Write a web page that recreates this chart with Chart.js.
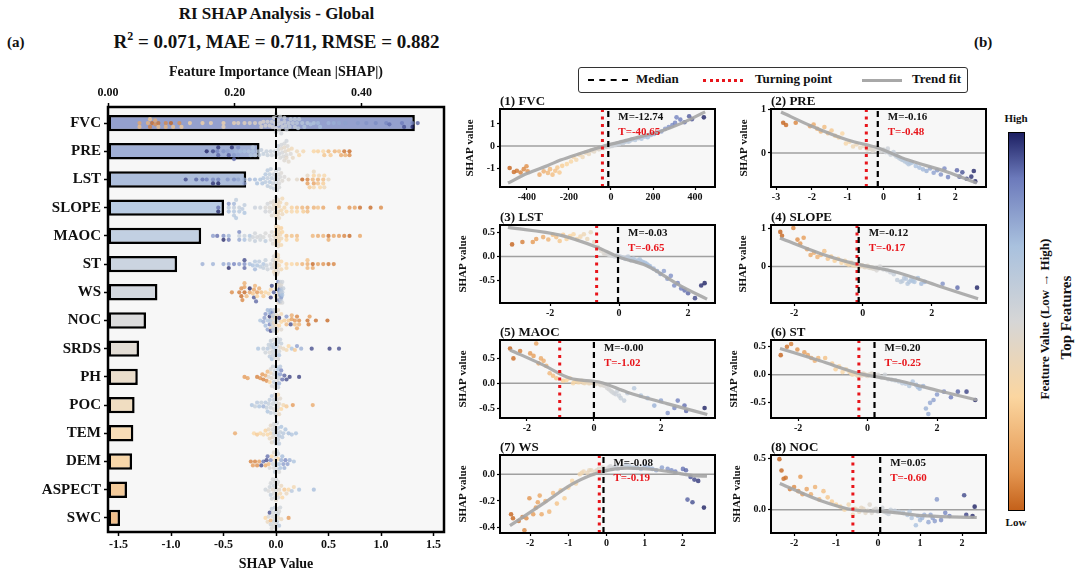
<!DOCTYPE html>
<html>
<head>
<meta charset="utf-8">
<script src="https://cdn.jsdelivr.net/npm/chart.js@4.4.1/dist/chart.umd.min.js"></script>
<style>
  body { margin: 0; width: 1080px; height: 576px; overflow: hidden; position: relative; background: #fff;
         font-family: "Liberation Serif", "DejaVu Serif", serif; font-weight: bold; color: #111; }
  canvas, .abs { position: absolute; }
  .sample { position: absolute; top: 11px; width: 40px; height: 0; }
  .lab { position: absolute; top: 3px; font-size: 13px; }
  .rot { transform: rotate(-90deg); white-space: nowrap; text-align: center; }
</style>
</head>
<body>
<div class="abs" style="left:0;width:553px;top:4px;text-align:center;font-size:17px">RI SHAP Analysis - Global</div>
<div class="abs" style="left:0;width:553px;top:31px;text-align:center;font-size:19px">R<span style="font-size:12px;position:relative;top:-8px">2</span> = 0.071, MAE = 0.711, RMSE = 0.882</div>
<div class="abs" style="left:7px;top:34px;font-size:15px">(a)</div>
<div class="abs" style="left:974px;top:34px;font-size:15px">(b)</div>

<div class="abs" style="left:578px;top:67px;width:388px;height:24px;border:1px solid #333;border-radius:3px;background:#fff">
  <span class="sample" style="left:9px;border-top:2.5px dashed #000"></span><span class="lab" style="left:57px">Median</span>
  <span class="sample" style="left:124px;border-top:3px dotted #e8151b"></span><span class="lab" style="left:176px">Turning point</span>
  <span class="sample" style="left:283px;border-top:3px solid #a8a8a8"></span><span class="lab" style="left:333px">Trend fit</span>
</div>

<div class="abs" id="cbar" style="left:1008px;top:132px;width:15px;height:377px;border:1.5px solid #000"></div>
<div class="abs" style="left:996px;width:40px;top:112px;text-align:center;font-size:11px">High</div>
<div class="abs" style="left:996px;width:40px;top:516px;text-align:center;font-size:11px">Low</div>
<div class="abs rot" style="left:945px;width:200px;top:311px;font-size:13px">Feature Value (Low &#8594; High)</div>
<div class="abs rot" style="left:966px;width:200px;top:309px;font-size:15px">Top Features</div>

<canvas id="left" width="460" height="516" style="left:0;top:60px"></canvas>

<script>
// ---- data ----
const features = ['FVC', 'PRE', 'LST', 'SLOPE', 'MAOC', 'ST', 'WS', 'NOC', 'SRDS', 'PH', 'POC', 'TEM', 'DEM', 'ASPECT', 'SWC'];
const importance = [0.484, 0.239, 0.218, 0.183, 0.147, 0.109, 0.078, 0.060, 0.049, 0.047, 0.042, 0.040, 0.038, 0.030, 0.019];
const impTicks = [0, 0.2, 0.4];
const shapTicks = [-1.5, -1.0, -0.5, 0, 0.5, 1.0, 1.5];

// dependence points [feature value, SHAP]
const fvcPts = [[-482,-1.0],[-462,-1.18],[-448,-1.12],[-430,-1.2],[-415,-1.05],[-402,-0.92],[-396,-1.15],
  [-340,-1.3],[-320,-1.15],[-300,-1.22],[-290,-1.05],[-278,-1.3],[-265,-1.12],[-255,-0.98],[-245,-1.2],[-232,-0.9],
  [-210,-0.82],[-190,-0.7],[-178,-0.5],[-165,-0.62],[-150,-0.4],[-135,-0.5],[-120,-0.3],[-105,-0.36],[-92,-0.2],
  [-80,-0.25],[-68,-0.12],[-55,-0.15],[-45,-0.06],[-36,-0.1],[-28,0.0],[-20,-0.04],[-12,0.02],[-5,-0.02],[2,0.05],
  [8,0.0],[15,0.08],[22,0.04],[30,0.12],[38,0.08],[48,0.18],[58,0.14],[70,0.22],[85,0.2],[100,0.3],[115,0.27],
  [130,0.36],[145,0.33],[160,0.42],[175,0.4],[190,0.5],[205,0.55],[220,0.6],[240,0.66],[258,0.78],[275,0.86],
  [292,0.95],[305,1.05],[312,1.3],[330,1.2],[350,1.08],[372,1.35],[385,1.22],[442,1.3],
  [-60,-0.14],[-40,-0.08],[-25,-0.03],[-15,-0.01],[-8,0.0],[0,0.02],[5,0.03],[12,0.05],[18,0.06],[26,0.09],
  [34,0.1],[44,0.13],[52,0.16],[64,0.18],[78,0.21],[92,0.25]];
const prePts = [[-2.8,0.7],[-2.72,0.65],[-2.45,0.7],[-2.05,0.62],[-1.95,0.66],[-1.85,0.56],[-1.75,0.5],[-1.65,0.6],
  [-1.55,0.46],[-1.45,0.52],[-1.35,0.4],[-1.25,0.36],[-1.15,0.45],[-1.05,0.22],[-0.95,0.26],[-0.85,0.15],[-0.75,0.2],
  [-0.65,0.12],[-0.55,0.16],[-0.45,0.08],[-0.38,0.12],[-0.3,0.05],[-0.22,0.14],[-0.15,0.1],[-0.08,0.04],[0,0.08],
  [0.06,0.02],[0.12,0.1],[0.2,-0.04],[0.28,0.02],[0.36,-0.08],[0.44,-0.12],[0.52,-0.16],[0.6,-0.2],[0.7,-0.26],
  [0.8,-0.22],[0.9,-0.3],[1.0,-0.34],[1.1,-0.38],[1.2,-0.42],[1.3,-0.36],[1.4,-0.46],[1.5,-0.4],[1.6,-0.5],
  [1.7,-0.36],[1.8,-0.56],[2.05,-0.4],[2.12,-0.55],[2.2,-0.45],[2.32,-0.6],[2.45,-0.55],[2.52,-0.42],[2.56,-0.66],
  [-0.4,0.1],[-0.34,0.09],[-0.26,0.08],[-0.18,0.11],[-0.1,0.07],[-0.04,0.06],[0.03,0.05],[0.09,0.03],[0.16,0.0],
  [0.24,-0.01],[0.32,-0.05],[0.4,-0.09],[0.48,-0.14],[0.56,-0.17],[0.65,-0.22],[0.75,-0.24]];
const lstPts = [[-3.1,0.25],[-2.8,0.3],[-2.5,0.3],[-2.4,0.36],[-2.2,0.4],[-2.05,0.35],[-1.92,0.45],[-1.82,0.4],
  [-1.72,0.32],[-1.62,0.45],[-1.52,0.36],[-1.42,0.42],[-1.32,0.46],[-1.22,0.36],[-1.12,0.41],[-1.02,0.46],[-0.92,0.36],
  [-0.82,0.5],[-0.72,0.3],[-0.62,0.2],[-0.52,0.12],[-0.44,0.06],[-0.36,0.08],[-0.28,0.03],[-0.2,0.02],[-0.12,0.0],
  [-0.05,0.03],[0.02,0.0],[0.1,-0.02],[0.18,-0.05],[0.26,0.0],[0.34,-0.08],[0.42,-0.04],[0.5,-0.1],[0.6,-0.06],
  [0.7,-0.12],[0.8,-0.15],[0.9,-0.2],[1.0,-0.25],[1.1,-0.3],[1.2,-0.36],[1.3,-0.3],[1.4,-0.46],[1.5,-0.4],[1.6,-0.6],
  [1.7,-0.55],[1.8,-0.66],[1.9,-0.7],[2.0,-0.76],[2.2,-0.86],[2.38,-0.6],[2.48,-0.55],
  [-0.4,0.05],[-0.32,0.04],[-0.24,0.03],[-0.16,0.01],[-0.08,0.02],[0.0,0.0],[0.06,-0.01],[0.14,-0.03],[0.22,-0.02],
  [0.3,-0.05],[0.38,-0.06],[0.46,-0.08],[0.55,-0.08],[0.65,-0.1],[0.75,-0.13],[0.85,-0.18]];
const slopePts = [[-2.4,0.9],[-2.35,0.8],[-2.02,1.0],[-1.9,0.7],[-1.82,0.6],[-1.72,0.75],[-1.62,0.45],[-1.52,0.3],
  [-1.42,0.36],[-1.32,0.25],[-1.22,0.3],[-1.12,0.4],[-1.02,0.2],[-0.92,0.26],[-0.82,0.15],[-0.72,0.2],[-0.62,0.1],
  [-0.52,0.15],[-0.42,0.05],[-0.34,0.1],[-0.26,0.02],[-0.18,0.06],[-0.1,0.0],[-0.02,0.03],[0.06,-0.02],[0.14,0.02],
  [0.22,-0.04],[0.3,-0.06],[0.4,-0.1],[0.5,0.0],[0.6,-0.08],[0.7,-0.1],[0.8,-0.15],[0.9,-0.2],[1.0,-0.35],[1.1,-0.4],
  [1.2,-0.3],[1.3,-0.45],[1.4,-0.35],[1.5,-0.4],[1.6,-0.3],[1.7,-0.45],[1.8,-0.4],[2.32,-0.45],[2.75,-0.55],[3.32,-0.55],
  [-0.48,0.08],[-0.38,0.06],[-0.3,0.04],[-0.22,0.03],[-0.14,0.02],[-0.06,0.01],[0.02,0.0],[0.1,-0.01],[0.18,-0.03],
  [0.26,-0.02],[0.35,-0.05],[0.45,-0.06],[1.15,-0.38],[1.25,-0.32],[1.35,-0.4],[1.45,-0.38]];
const maocPts = [[-2.5,0.7],[-2.4,0.5],[-2.2,0.65],[-1.9,0.6],[-1.8,0.55],[-1.72,0.8],[-1.65,0.4],[-1.58,0.5],
  [-1.5,0.45],[-1.42,0.35],[-1.32,0.2],[-1.22,0.15],[-1.12,0.1],[-1.02,0.2],[-0.92,0.05],[-0.82,0.06],[-0.72,0.1],
  [-0.62,0.0],[-0.52,0.05],[-0.44,0.02],[-0.36,0.05],[-0.28,0.0],[-0.2,0.03],[-0.12,0.0],[-0.04,0.02],[0.04,-0.02],
  [0.12,0.02],[0.2,-0.04],[0.3,-0.05],[0.4,-0.1],[0.5,-0.15],[0.6,-0.2],[0.7,-0.15],[0.8,-0.3],[0.9,-0.35],[1.0,-0.2],
  [1.2,-0.1],[1.4,-0.25],[1.6,-0.3],[1.8,-0.45],[2.0,-0.35],[2.2,-0.6],[2.4,-0.5],[2.5,-0.35],[2.7,-0.45],[2.75,-0.56],[3.3,-0.5],
  [-0.58,0.03],[-0.48,0.02],[-0.4,0.04],[-0.32,0.01],[-0.24,0.02],[-0.16,0.0],[-0.08,0.01],[0.0,0.0],[0.08,0.0],
  [0.16,-0.01],[0.25,-0.03],[0.35,-0.06],[0.45,-0.12],[0.55,-0.18],[0.65,-0.22],[0.75,-0.25]];
const stPts = [[-2.5,0.35],[-2.32,0.5],[-2.2,0.55],[-2.02,0.45],[-1.82,0.4],[-1.72,0.35],[-1.62,0.3],[-1.52,0.25],
  [-1.42,0.3],[-1.22,0.3],[-1.02,0.2],[-0.92,0.1],[-0.82,0.15],[-0.72,0.05],[-0.62,0.1],[-0.52,0.05],[-0.44,0.0],
  [-0.36,0.02],[-0.28,-0.02],[-0.2,0.0],[-0.12,0.02],[-0.04,-0.01],[0.04,0.0],[0.12,0.02],[0.2,-0.02],[0.3,0.0],
  [0.4,-0.05],[0.5,0.0],[0.6,-0.08],[0.8,-0.1],[1.0,-0.15],[1.2,-0.2],[1.3,-0.12],[1.4,-0.18],[1.5,-0.25],[1.6,-0.2],
  [1.68,-0.6],[1.75,-0.7],[1.8,-0.5],[1.9,-0.45],[2.0,-0.35],[2.2,-0.3],[2.4,-0.4],[2.6,-0.3],[2.85,-0.3],[3.1,-0.45],
  [-0.48,0.03],[-0.4,0.02],[-0.32,0.0],[-0.24,0.01],[-0.16,-0.01],[-0.08,0.01],[0.0,-0.02],[0.08,0.01],[0.16,0.0],
  [0.25,-0.01],[0.35,-0.03],[0.45,-0.04],[0.7,-0.09],[0.9,-0.12],[1.1,-0.16],[1.45,-0.22]];
const wsPts = [[-2.5,-0.3],[-2.45,-0.33],[-2.3,-0.35],[-2.2,-0.32],[-2.15,-0.42],[-2.1,-0.33],[-2.02,-0.18],[-1.92,-0.3],
  [-1.85,-0.25],[-1.8,-0.21],[-1.75,-0.16],[-1.7,-0.3],[-1.6,-0.2],[-1.5,-0.28],[-1.4,-0.14],[-1.3,-0.22],[-1.2,-0.12],
  [-1.1,-0.18],[-1.0,-0.1],[-0.9,-0.05],[-0.8,-0.07],[-0.7,0.0],[-0.6,0.02],[-0.5,0.01],[-0.4,0.03],[-0.3,0.02],
  [-0.2,0.04],[-0.1,0.05],[0,0.03],[0.1,0.06],[0.2,0.05],[0.3,0.04],[0.5,0.07],[0.7,0.05],[0.9,0.04],[1.1,0.05],
  [1.3,0.03],[1.6,0.04],[1.8,0.02],[2.0,0.04],[2.08,0.03],[2.2,-0.02],[2.3,-0.04],[2.4,-0.05],[2.12,-0.19],[2.25,-0.21],[2.55,-0.25],
  [-0.65,0.01],[-0.45,0.03],[-0.35,0.0],[-0.25,0.03],[-0.15,0.02],[-0.05,0.04],[0.05,0.05],[0.15,0.04],[0.25,0.06],
  [0.4,0.05],[0.6,0.06],[0.8,0.05],[1.0,0.06],[1.2,0.04],[1.45,0.05],[1.7,0.03]];
const nocPts = [[-2.35,0.49],[-2.3,0.38],[-2.25,0.3],[-2.2,0.31],[-2.1,0.2],[-2.0,0.22],[-1.9,0.18],[-1.85,0.32],
  [-1.8,0.15],[-1.7,0.2],[-1.6,0.15],[-1.5,0.22],[-1.4,0.1],[-1.3,0.18],[-1.2,0.12],[-1.1,0.08],[-1.0,0.05],[-0.9,0.03],
  [-0.8,0.0],[-0.7,0.05],[-0.6,-0.05],[-0.5,0.0],[-0.4,0.02],[-0.3,-0.03],[-0.2,0.05],[-0.1,0.0],[0,-0.02],[0.1,0.02],
  [0.2,-0.03],[0.3,0.0],[0.5,-0.02],[0.7,-0.05],[0.8,-0.08],[0.9,-0.15],[1.0,-0.1],[1.1,-0.05],[1.2,-0.12],[1.3,-0.08],
  [1.4,0.1],[1.5,-0.1],[1.6,-0.03],[1.7,-0.06],[2.05,0.14],[2.1,-0.05],[2.25,-0.06],[2.3,0.03],
  [-0.55,0.01],[-0.45,-0.02],[-0.35,0.01],[-0.25,-0.01],[-0.15,-0.03],[-0.05,0.01],[0.05,-0.01],[0.15,-0.02],
  [0.25,-0.04],[0.4,-0.01],[0.6,-0.03],[0.75,-0.02],[0.95,-0.06],[1.05,-0.08],[1.25,-0.05],[1.35,-0.11]];

// trend fits [feature value, SHAP]
const fvcTrend = [[-490,-1.68],[-400,-1.25],[-300,-0.88],[-240,-0.64],[-150,-0.35],[-50,-0.05],[50,0.2],[150,0.45],[234,0.66],[340,1.05],[448,1.55]];
const preTrend = [[-2.86,0.95],[-2,0.62],[-1,0.3],[-0.17,0.12],[0.67,-0.16],[1.78,-0.44],[2.6,-0.7]];
const lstTrend = [[-3.22,0.6],[-1.71,0.44],[-0.64,0.19],[0.03,-0.02],[0.8,-0.19],[1.77,-0.6],[2.55,-0.88]];
const slopeTrend = [[-2.41,0.74],[-1.24,0.34],[-0.27,0.08],[0.9,-0.13],[2.18,-0.5],[3.35,-0.84]];
const maocTrend = [[-2.5,0.67],[-1.52,0.37],[-0.71,0.1],[0.18,0.02],[0.99,-0.18],[2.18,-0.41],[3.38,-0.63]];
const stTrend = [[-2.52,0.47],[-1.37,0.25],[-0.22,0.02],[0.93,-0.11],[2.08,-0.29],[3.15,-0.45]];
const wsTrend = [[-2.53,-0.385],[-1.66,-0.22],[-0.88,-0.07],[-0.17,0.015],[0.54,0.045],[1.4,0.03],[2.27,-0.01],[2.63,-0.015]];
const nocTrend = [[-2.34,0.255],[-1.38,0.09],[-0.6,0.0],[0.21,-0.02],[1.16,-0.06],[2.35,-0.075]];

const medians = ['-12.74', '-0.16', '-0.03', '-0.12', '-0.00', '0.20', '-0.08', '0.05'];
const turning = ['-40.65', '-0.48', '-0.65', '-0.17', '-1.02', '-0.25', '-0.19', '-0.60'];

// remaining features for the beeswarm: [SHAP, scaled feature value 0..1]
const srdsShap = [[-0.17,0.7],[-0.12,0.6],[-0.1,0.55],[-0.08,0.65],[-0.06,0.5],[-0.05,0.6],[-0.04,0.7],[-0.03,0.55],[-0.02,0.5],
  [-0.01,0.6],[0,0.55],[0,0.65],[0.01,0.5],[0.02,0.6],[0.03,0.55],[0.04,0.45],[0.05,0.6],[0.07,0.4],[0.1,0.35],[0.12,0.3],
  [0.15,0.7],[0.18,0.25],[0.2,0.8],[0.24,0.75],[0.34,0.95],[0.51,0.97],[0.6,0.95],
  [-0.07,0.6],[-0.05,0.55],[-0.04,0.62],[-0.03,0.58],[-0.02,0.66],[-0.01,0.52],[0.0,0.6],[0.01,0.62],[0.02,0.5],[0.03,0.68],[-0.06,0.63],[0.04,0.58]];
const phShap = [[-0.3,0.1],[-0.27,0.12],[-0.18,0.05],[-0.15,0.08],[-0.13,0.1],[-0.12,0.05],[-0.1,0.15],[-0.09,0.08],[-0.08,0.2],
  [-0.06,0.3],[-0.05,0.4],[-0.04,0.45],[-0.02,0.5],[-0.01,0.55],[0,0.5],[0,0.6],[0.01,0.65],[0.02,0.7],[0.03,0.75],[0.04,0.8],
  [0.05,0.85],[0.06,0.9],[0.08,0.92],[0.1,0.95],[0.13,0.97],[0.22,0.97],
  [-0.07,0.45],[-0.05,0.5],[-0.03,0.55],[-0.02,0.6],[-0.01,0.5],[0,0.55],[0.01,0.5],[0.02,0.6],[0.03,0.55],[0.04,0.65],[-0.04,0.5],[0.01,0.62]];
const pocShap = [[-0.23,0.7],[-0.2,0.6],[-0.18,0.65],[-0.16,0.7],[-0.14,0.6],[-0.12,0.75],[-0.1,0.65],[-0.08,0.7],[-0.07,0.6],
  [-0.05,0.55],[-0.04,0.65],[-0.02,0.5],[-0.01,0.55],[0,0.5],[0,0.45],[0.01,0.4],[0.02,0.35],[0.03,0.45],[0.05,0.3],[0.07,0.35],
  [0.1,0.25],[0.16,0.1],[0.35,0.15],
  [-0.09,0.6],[-0.06,0.62],[-0.03,0.55],[-0.02,0.58],[-0.01,0.5],[0,0.52],[0.01,0.48],[0.02,0.5],[0.03,0.42],[-0.05,0.6],[0.0,0.55],[0.04,0.45]];
const temShap = [[-0.39,0.15],[-0.21,0.3],[-0.18,0.25],[-0.15,0.3],[-0.12,0.35],[-0.1,0.28],[-0.08,0.3],[-0.06,0.4],[-0.05,0.35],
  [-0.03,0.45],[-0.02,0.5],[-0.01,0.55],[0,0.5],[0,0.6],[0.01,0.55],[0.02,0.6],[0.03,0.65],[0.05,0.7],[0.07,0.65],[0.09,0.7],
  [0.12,0.72],[0.15,0.68],[0.19,0.7],
  [-0.07,0.4],[-0.04,0.45],[-0.03,0.5],[-0.02,0.55],[-0.01,0.5],[0,0.55],[0.01,0.58],[0.02,0.6],[0.03,0.62],[0.04,0.6],[-0.05,0.45],[0.06,0.65]];
const demShap = [[-0.24,0.05],[-0.22,0.1],[-0.2,0.05],[-0.18,0.08],[-0.16,0.12],[-0.14,0.95],[-0.12,0.9],[-0.1,0.15],[-0.09,0.95],
  [-0.07,0.2],[-0.05,0.85],[-0.04,0.3],[-0.02,0.5],[-0.01,0.4],[0,0.5],[0,0.6],[0.01,0.55],[0.02,0.3],[0.03,0.7],[0.05,0.75],
  [0.07,0.8],[0.09,0.85],[0.11,0.8],[0.13,0.75],[0.17,0.7],
  [-0.06,0.5],[-0.03,0.55],[-0.02,0.45],[-0.01,0.6],[0,0.5],[0.01,0.55],[0.02,0.6],[0.03,0.5],[0.04,0.7],[0.06,0.72],[-0.08,0.9],[0.08,0.75]];
const aspectShap = [[-0.1,0.55],[-0.07,0.5],[-0.05,0.6],[-0.03,0.45],[-0.02,0.5],[-0.01,0.55],[0,0.5],[0,0.45],[0.01,0.4],
  [0.02,0.5],[0.04,0.35],[0.06,0.3],[0.08,0.25],[0.1,0.4],[0.12,0.3],[0.15,0.65],[0.17,0.35],[0.22,0.7],[0.36,0.72],
  [-0.06,0.55],[-0.04,0.5],[-0.03,0.52],[-0.02,0.56],[-0.01,0.5],[0,0.52],[0.01,0.48],[0.02,0.5],[0.03,0.45],[-0.05,0.52],[0.0,0.5],[0.05,0.4]];
const swcShap = [[-0.1,0.3],[-0.08,0.4],[-0.06,0.95],[-0.05,0.2],[-0.04,0.6],[-0.03,0.5],[-0.02,0.55],[-0.01,0.6],[0,0.5],
  [0,0.55],[0.01,0.6],[0.02,0.45],[0.03,0.65],[0.05,0.4],[0.12,0.1],
  [-0.07,0.5],[-0.05,0.55],[-0.03,0.52],[-0.02,0.5],[-0.01,0.55],[0,0.52],[0.01,0.5],[0.02,0.55],[0.03,0.5],[0.04,0.55],[-0.04,0.5],[0.0,0.48]];

// ---- styling helpers ----
const F = '"Liberation Serif", "DejaVu Serif", serif';
Chart.defaults.color = '#111';
Chart.defaults.font.family = F;

const cmapStops = [[0, [196, 97, 26]], [0.1, [228, 150, 80]], [0.3, [251, 214, 160]], [0.5, [214, 214, 214]],
                   [0.7, [169, 193, 222]], [0.88, [108, 122, 187]], [1, [29, 32, 99]]];
function cmap(t, a) {
  t = Math.max(0, Math.min(1, t));
  for (let i = 1; i < cmapStops.length; i++) {
    if (t <= cmapStops[i][0]) {
      const [t0, c0] = cmapStops[i - 1], [t1, c1] = cmapStops[i];
      const f = (t - t0) / (t1 - t0);
      const c = c0.map((v, k) => Math.round(v + (c1[k] - v) * f));
      return `rgba(${c[0]},${c[1]},${c[2]},${a})`;
    }
  }
  return `rgba(29,32,99,${a})`;
}
document.getElementById('cbar').style.background =
  'linear-gradient(to top,' + cmapStops.map(s => cmap(s[0], 1) + ' ' + (s[0] * 100) + '%').join(',') + ')';

// background + frame + text notes for each plot area
const frame = {
  id: 'frame',
  beforeDraw(ch) {
    const a = ch.chartArea, c = ch.ctx;
    c.save(); c.fillStyle = '#f7f7f7'; c.fillRect(a.left, a.top, a.width, a.height); c.restore();
  },
  afterDraw(ch, args, opts) {
    const a = ch.chartArea, c = ch.ctx;
    c.save();
    c.strokeStyle = '#000'; c.lineWidth = opts.lw || 2;
    c.strokeRect(a.left, a.top, a.width, a.height);
    if (opts.title) {
      c.font = 'bold 13px ' + F; c.fillStyle = '#111'; c.textBaseline = 'bottom'; c.textAlign = 'left';
      c.fillText(opts.title, a.left, a.top - 1);
    }
    if (opts.med !== undefined) {
      const px = ch.scales.x.getPixelForValue(parseFloat(opts.med)) + 10;
      c.font = 'bold 11px ' + F; c.textBaseline = 'middle'; c.textAlign = 'left';
      c.fillStyle = '#111'; c.fillText('M=' + opts.med, px, a.top + 8);
      c.fillStyle = '#e8151b'; c.fillText('T=' + opts.turn, px, a.top + 23);
    }
    c.restore();
  }
};

// ---- left: importance bars + beeswarm ----
function scaled(pts) {
  const xs = pts.map(p => p[0]);
  const lo = Math.min(...xs), hi = Math.max(...xs);
  return pts.map(([x, s]) => ({ s, t: (x - lo) / (hi - lo) }));
}
const rows = [fvcPts, prePts, lstPts, slopePts, maocPts, stPts, wsPts, nocPts].map(scaled)
  .concat([srdsShap, phShap, pocShap, temShap, demShap, aspectShap, swcShap].map(a => a.map(([s, t]) => ({ s, t }))));

const yMin = -0.57, yMax = 14.5;
const pxX = 336 / 3.2, pxY = 425 / (yMax - yMin);
function swarm(row, i) {
  const placed = [];
  return row.slice().sort((a, b) => a.s - b.s).map(p => {
    const px = p.s * pxX;
    let best = 0, bestD = -1;
    for (let k = 0; k <= 16; k++) {
      const off = (k % 2 ? 1 : -1) * Math.ceil(k / 2) * 1.3;
      let dmin = Infinity;
      for (const q of placed) dmin = Math.min(dmin, Math.hypot(q[0] - px, q[1] - off));
      if (dmin >= 3.4) { best = off; break; }
      if (dmin > bestD) { bestD = dmin; best = off; }
    }
    placed.push([px, best]);
    return { x: p.s, y: i + best / pxY, t: p.t };
  });
}

const swarmSets = rows.map((row, i) => ({
  type: 'scatter', data: swarm(row, i), xAxisID: 'x', yAxisID: 'y',
  backgroundColor: c => c.raw ? cmap(c.raw.t, 0.75) : '#999', borderWidth: 0, pointRadius: 2.1, order: 1
}));

const tickFont = size => ({ family: F, weight: 'bold', size });
const axisGrid = { drawOnChartArea: false, offset: false, tickLength: 4, tickColor: '#000', tickWidth: 1.5 };

new Chart(document.getElementById('left'), {
  type: 'bar',
  data: {
    datasets: [
      { type: 'line', data: [{ x: 0, y: yMin }, { x: 0, y: yMax }], xAxisID: 'x', yAxisID: 'y',
        borderColor: '#000', borderWidth: 2, borderDash: [8, 3], pointRadius: 0, order: 0 },
      ...swarmSets,
      { data: importance.map((v, i) => ({ x: v, y: i })), indexAxis: 'y', xAxisID: 'xTop', yAxisID: 'y', grouped: false,
        backgroundColor: features.map((f, i) => cmap(0.84 - 0.66 * i / 14, 0.8)),
        borderColor: '#000', borderWidth: 2.5, borderSkipped: false, barPercentage: 0.58, categoryPercentage: 1, order: 2 }
    ]
  },
  options: {
    responsive: false, animation: false, events: [],
    layout: { padding: { left: 0, right: 16, top: 0, bottom: 0 } },
    plugins: { legend: { display: false }, tooltip: { enabled: false }, frame: { lw: 2.5 } },
    scales: {
      y: { type: 'linear', axis: 'y', position: 'left', offset: false, min: yMin, max: yMax, reverse: true,
           afterBuildTicks: s => { s.ticks = features.map((f, i) => ({ value: i })); },
           afterFit: s => { s.width = 108; },
           grid: axisGrid, border: { display: false },
           ticks: { font: tickFont(15), color: '#111', padding: 3, callback: v => features[v] } },
      x: { type: 'linear', axis: 'x', position: 'bottom', offset: false, min: -1.6, max: 1.6,
           afterBuildTicks: s => { s.ticks = shapTicks.map(v => ({ value: v })); },
           afterFit: s => { s.height = 44; },
           grid: axisGrid, border: { display: false },
           ticks: { font: tickFont(12), color: '#111', padding: 2, maxRotation: 0, callback: v => v.toFixed(1) },
           title: { display: true, text: 'SHAP Value', font: tickFont(14), color: '#111', padding: { top: 0, bottom: 3 } } },
      xTop: { type: 'linear', axis: 'x', position: 'top', offset: false, min: 0, max: 0.53,
           afterBuildTicks: s => { s.ticks = impTicks.map(v => ({ value: v })); },
           afterFit: s => { s.height = 47; },
           grid: axisGrid, border: { display: false },
           ticks: { font: tickFont(12), color: '#111', padding: 3, maxRotation: 0, callback: v => v.toFixed(2) },
           title: { display: true, text: 'Feature Importance (Mean |SHAP|)', font: tickFont(14), color: '#111', padding: { top: 4, bottom: 0 } } }
    }
  },
  plugins: [frame]
});

// ---- right: dependence panels ----
const panels = [
  { title: '(1) FVC',   pts: fvcPts,   trend: fvcTrend,   xr: [-528, 495],   yr: [-1.86, 1.68], xt: [-400, -200, 0, 200, 400], yt: [-1, 0, 1],      yd: 0, yw: 36, box: [500, 109] },
  { title: '(2) PRE',   pts: prePts,   trend: preTrend,   xr: [-3.14, 2.86], yr: [-0.79, 1.02], xt: [-3, -2, -1, 0, 1, 2],     yt: [0, 1],          yd: 0, yw: 33, box: [771, 109] },
  { title: '(3) LST',   pts: lstPts,   trend: lstTrend,   xr: [-3.45, 2.78], yr: [-0.96, 0.65], xt: [-2, 0, 2],                yt: [-0.5, 0, 0.5],  yd: 1, yw: 43, box: [500, 225] },
  { title: '(4) SLOPE', pts: slopePts, trend: slopeTrend, xr: [-2.67, 3.58], yr: [-0.95, 1.08], xt: [-2, 0, 2],                yt: [0, 1],          yd: 0, yw: 34, box: [771, 225] },
  { title: '(5) MAOC',  pts: maocPts,  trend: maocTrend,  xr: [-2.8, 3.61],  yr: [-0.7, 0.87],  xt: [-2, 0, 2],                yt: [-0.5, 0, 0.5],  yd: 1, yw: 43, box: [500, 340] },
  { title: '(6) ST',    pts: stPts,    trend: stTrend,    xr: [-2.78, 3.41], yr: [-0.77, 0.62], xt: [-2, 0, 2],                yt: [-0.5, 0, 0.5],  yd: 1, yw: 43, box: [771, 340] },
  { title: '(7) WS',    pts: wsPts,    trend: wsTrend,    xr: [-2.79, 2.84], yr: [-0.44, 0.144], xt: [-2, -1, 0, 1, 2],        yt: [-0.4, -0.2, 0], yd: 1, yw: 43, box: [500, 455] },
  { title: '(8) NOC',   pts: nocPts,   trend: nocTrend,   xr: [-2.55, 2.57], yr: [-0.225, 0.53], xt: [-2, -1, 0, 1, 2],        yt: [0, 0.5],        yd: 1, yw: 40, box: [771, 455] }
];

panels.forEach((d, i) => {
  const [l, t] = d.box, w = 215, h = 78;
  const cv = document.createElement('canvas');
  cv.width = w + 56; cv.height = h + 42;
  cv.style.left = (l - 50) + 'px'; cv.style.top = (t - 24) + 'px';
  document.body.appendChild(cv);
  const xs = d.pts.map(p => p[0]);
  const lo = Math.min(...xs), hi = Math.max(...xs);
  const m = parseFloat(medians[i]), tp = parseFloat(turning[i]);
  new Chart(cv, {
    type: 'scatter',
    data: {
      datasets: [
        { type: 'line', data: d.trend.map(([x, y]) => ({ x, y })), borderColor: 'rgba(165,165,165,0.9)', borderWidth: 3.2,
          pointRadius: 0, cubicInterpolationMode: 'monotone', order: 1 },
        { data: d.pts.map(([x, y]) => ({ x, y, t: (x - lo) / (hi - lo) })), backgroundColor: c => c.raw ? cmap(c.raw.t, 0.8) : '#999',
          borderWidth: 0, pointRadius: 2.3, order: 2 },
        { type: 'line', data: [{ x: d.xr[0], y: 0 }, { x: d.xr[1], y: 0 }], borderColor: '#a0a0a0', borderWidth: 1.5, pointRadius: 0, order: 3 },
        { type: 'line', data: [{ x: m, y: d.yr[0] }, { x: m, y: d.yr[1] }], borderColor: '#000', borderWidth: 2.2, borderDash: [6, 4], pointRadius: 0, order: 0 },
        { type: 'line', data: [{ x: tp, y: d.yr[0] }, { x: tp, y: d.yr[1] }], borderColor: '#e8151b', borderWidth: 3, borderDash: [3, 4.5], pointRadius: 0, order: 0 }
      ]
    },
    options: {
      responsive: false, animation: false, events: [],
      layout: { padding: { left: 50 - d.yw, right: 6, top: 24, bottom: 0 } },
      plugins: { legend: { display: false }, tooltip: { enabled: false },
                 frame: { lw: 2, title: d.title, med: medians[i], turn: turning[i] } },
      scales: {
        x: { type: 'linear', min: d.xr[0], max: d.xr[1],
             afterBuildTicks: s => { s.ticks = d.xt.map(v => ({ value: v })); },
             afterFit: s => { s.height = 18; },
             grid: { drawOnChartArea: false, tickLength: 3, tickColor: '#000', tickWidth: 1.2 }, border: { display: false },
             ticks: { font: tickFont(10), color: '#111', padding: 1, maxRotation: 0, callback: v => String(v) } },
        y: { type: 'linear', min: d.yr[0], max: d.yr[1],
             afterBuildTicks: s => { s.ticks = d.yt.map(v => ({ value: v })); },
             afterFit: s => { s.width = d.yw; },
             grid: { drawOnChartArea: false, tickLength: 3, tickColor: '#000', tickWidth: 1.2 }, border: { display: false },
             ticks: { font: tickFont(10), color: '#111', padding: 2, callback: v => v.toFixed(d.yd) },
             title: { display: true, text: 'SHAP value', font: tickFont(11), color: '#111', padding: { top: 0, bottom: 2 } } }
      }
    },
    plugins: [frame]
  });
});
</script>
</body>
</html>
